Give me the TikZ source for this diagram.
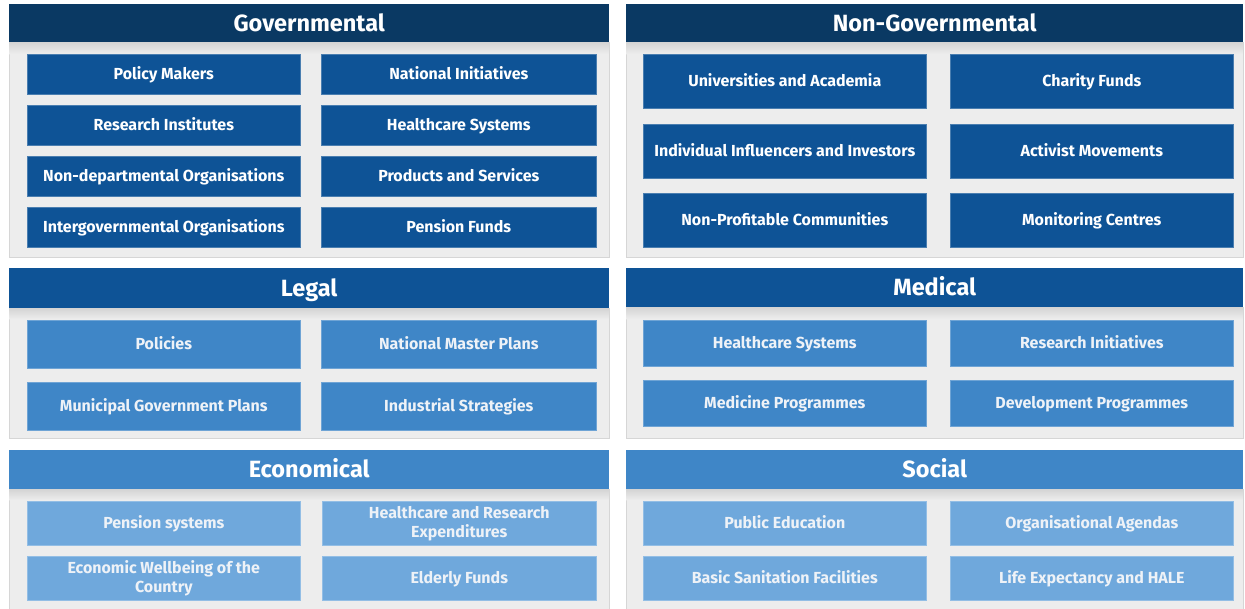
\documentclass[tikz,border=0pt]{standalone}
\usepackage{fontspec}
\setmainfont{Fira Sans}
\usepackage{xcolor}
\usetikzlibrary{positioning}

\definecolor{navy}{HTML}{0A3963}
\definecolor{deepblue}{HTML}{0E5396}
\definecolor{midblue}{HTML}{3F86C7}
\definecolor{lightblue}{HTML}{6FA8DC}
\definecolor{panelbg}{HTML}{EDEDED}
\definecolor{panelline}{HTML}{D6D6D6}
\definecolor{softwhite}{HTML}{EEF2F7}

\tikzset{
  panel/.style={draw=panelline, fill=panelbg, line width=0.8pt},
  header/.style={anchor=north west, inner sep=0pt, text=white,
    text height=16pt, text depth=0pt,
    font=\bfseries\fontsize{23.5}{27}\selectfont},
  item/.style={anchor=north west, inner sep=0pt, align=center,
    draw=#1!75!white, fill=#1, line width=0.6pt,
    text height=11pt, text depth=0pt,
    font=\bfseries\fontsize{16}{19}\selectfont},
}

\begin{document}
\begin{tikzpicture}[x={1pt},y={-1pt}]
\useasboundingbox[fill=white] (0,0) rectangle (1245,608);

% panels
\draw[panel] (9,42) rectangle (609,257);
\draw[panel] (626,42) rectangle (1243,257);
\draw[panel] (9,308) rectangle (609,438);
\draw[panel] (626,307) rectangle (1243,438);
\draw[panel] (9,489) rectangle (609,615);
\draw[panel] (626,489) rectangle (1243,615);

% header shadows
\shade[top color=black!17, bottom color=panelbg] (9.5,42) rectangle (608.5,54);
\shade[top color=black!17, bottom color=panelbg] (626.5,42) rectangle (1242.5,54);
\shade[top color=black!17, bottom color=panelbg] (9.5,308) rectangle (608.5,319);
\shade[top color=black!17, bottom color=panelbg] (626.5,307) rectangle (1242.5,319);
\shade[top color=black!17, bottom color=panelbg] (9.5,489) rectangle (608.5,500);
\shade[top color=black!17, bottom color=panelbg] (626.5,489) rectangle (1242.5,500);

% headers
\node[header, fill=navy, minimum width=600pt, minimum height=38pt] (gov) at (9,4) {Governmental};
\node[header, fill=navy, minimum width=617pt, minimum height=38pt] (nongov) at (626,4) {Non-Governmental};
\node[header, fill=deepblue, minimum width=600pt, minimum height=40pt] (legal) at (9,268) {Legal};
\node[header, fill=deepblue, minimum width=617pt, minimum height=39pt] (medical) at (626,268) {Medical};
\node[header, fill=midblue, minimum width=600pt, minimum height=39pt] (econ) at (9,450) {Economical};
\node[header, fill=midblue, minimum width=617pt, minimum height=39pt] (social) at (626,450) {Social};

% governmental
\tikzset{gitem/.style={item=deepblue, text=white, minimum height=40pt}}
\node[gitem, minimum width=273pt] (policymakers) at (27,54) {Policy Makers};
\node[gitem, minimum width=273pt] (research) at (27,105) {Research Institutes};
\node[gitem, minimum width=273pt] (nondep) at (27,156) {Non-departmental Organisations};
\node[gitem, minimum width=273pt] (intergov) at (27,207) {Intergovernmental Organisations};
\node[gitem, minimum width=275pt] (national) at (321,54) {National Initiatives};
\node[gitem, minimum width=275pt] (healthgov) at (321,105) {Healthcare Systems};
\node[gitem, minimum width=275pt] (products) at (321,156) {Products and Services};
\node[gitem, minimum width=275pt] (pension) at (321,207) {Pension Funds};

% non-governmental
\tikzset{nitem/.style={item=deepblue, text=white, minimum width=283pt, minimum height=54pt}}
\node[nitem] (univ) at (643,54) {Universities and Academia};
\node[nitem] (influencers) at (643,124) {Individual Influencers and Investors};
\node[nitem] (nonprofit) at (643,193) {Non-Profitable Communities};
\node[nitem] (charity) at (950,54) {Charity Funds};
\node[nitem] (activist) at (950,124) {Activist Movements};
\node[nitem] (monitoring) at (950,193) {Monitoring Centres};

% legal
\tikzset{litem/.style={item=midblue, text=softwhite, minimum height=48pt}}
\node[litem, minimum width=273pt] (policies) at (27,320) {Policies};
\node[litem, minimum width=273pt] (municipal) at (27,382) {Municipal Government Plans};
\node[litem, minimum width=275pt] (master) at (321,320) {National Master Plans};
\node[litem, minimum width=275pt] (industrial) at (321,382) {Industrial Strategies};

% medical
\tikzset{mitem/.style={item=midblue, text=softwhite, minimum width=283pt, minimum height=46pt}}
\node[mitem] (healthmed) at (643,320) {Healthcare Systems};
\node[mitem] (medicine) at (643,380) {Medicine Programmes};
\node[mitem] (initiatives) at (950,320) {Research Initiatives};
\node[mitem] (development) at (950,380) {Development Programmes};

% economical
\tikzset{eitem/.style={item=lightblue, text=softwhite, minimum height=44pt},
  twolines/.style={text height={}, text depth={}, font=\bfseries\fontsize{16}{19}\selectfont}}
\node[eitem, minimum width=273pt] (pensionsys) at (27,501) {Pension systems};
\node[eitem, twolines, minimum width=273pt] (wellbeing) at (27,556) {Economic Wellbeing of the\\Country};
\node[eitem, twolines, minimum width=274pt] (expenditures) at (322,501) {Healthcare and Research\\Expenditures};
\node[eitem, minimum width=274pt] (elderly) at (322,556) {Elderly Funds};

% social
\tikzset{sitem/.style={item=lightblue, text=softwhite, minimum width=283pt, minimum height=44pt}}
\node[sitem] (education) at (643,501) {Public Education};
\node[sitem] (sanitation) at (643,556) {Basic Sanitation Facilities};
\node[sitem] (agendas) at (950,501) {Organisational Agendas};
\node[sitem] (life) at (950,556) {Life Expectancy and HALE};
\end{tikzpicture}
\end{document}
